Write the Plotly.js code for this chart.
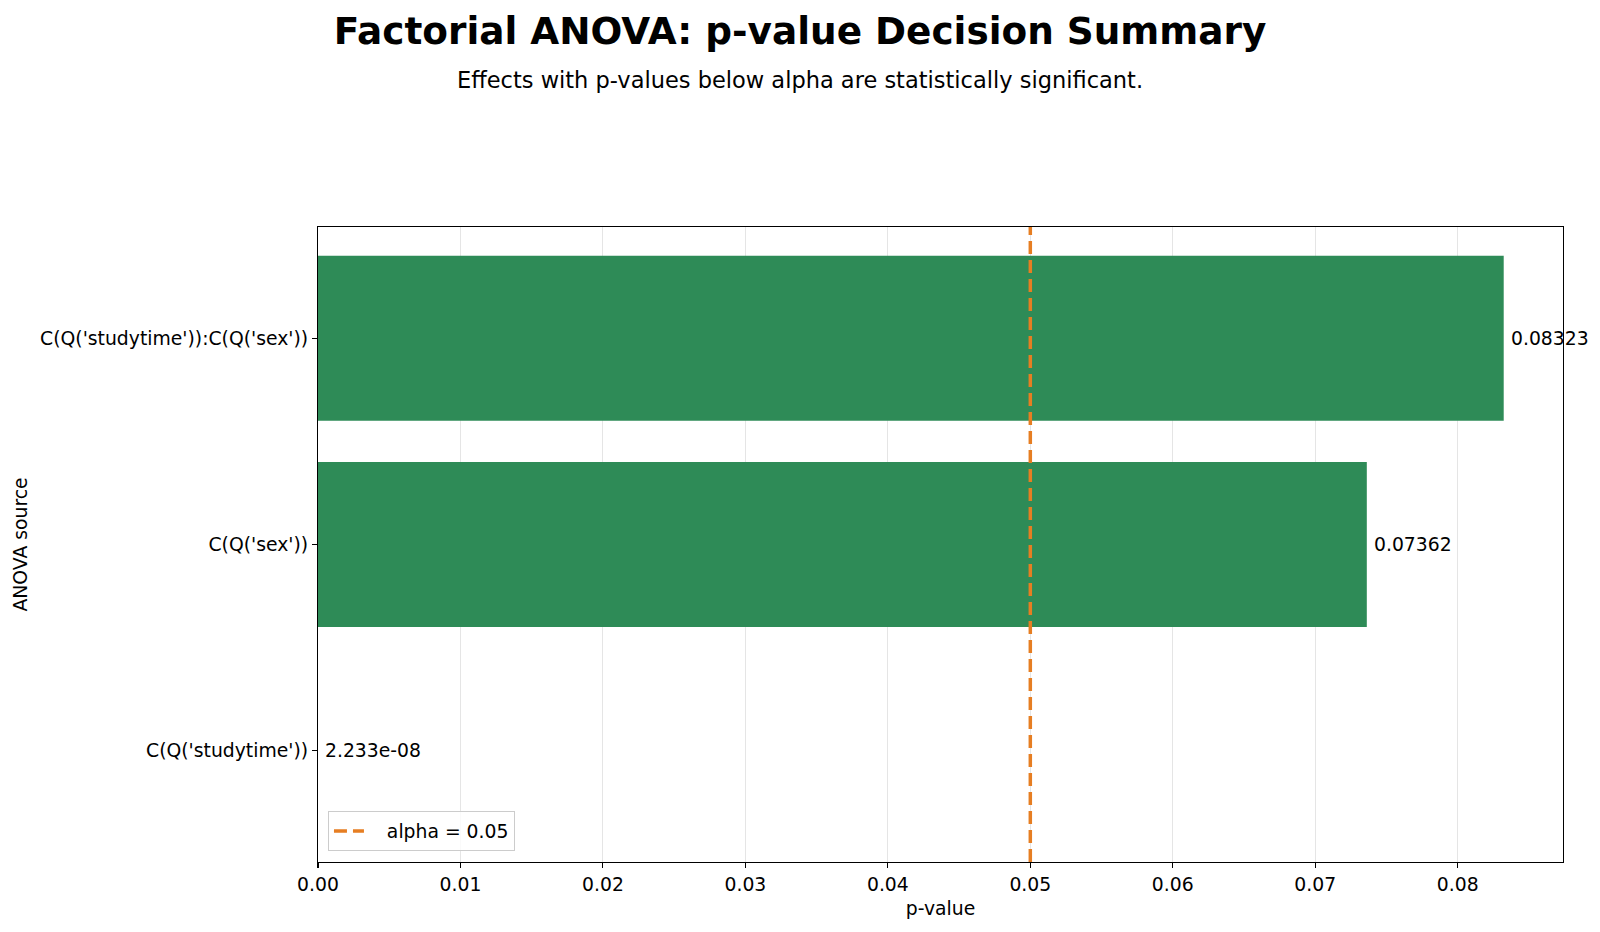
<!DOCTYPE html>
<html>
<head>
<meta charset="utf-8">
<script src="https://cdn.plot.ly/plotly-3.0.1.min.js"></script>
<style>
  html, body { margin: 0; padding: 0; background: #ffffff; }
  #chart { width: 1600px; height: 932px; }
</style>
</head>
<body>
<div id="chart"></div>
<script>
// ANOVA sources, bottom to top, with their p-values
const sources = ["C(Q('studytime'))", "C(Q('sex'))", "C(Q('studytime')):C(Q('sex'))"];
const pValues = [2.233e-08, 0.07362, 0.08323];
const valueLabels = ["2.233e-08", "0.07362", "0.08323"];
const alpha = 0.05;
const xTicks = [0, 0.01, 0.02, 0.03, 0.04, 0.05, 0.06, 0.07, 0.08];
const xTickLabels = ["0.00", "0.01", "0.02", "0.03", "0.04", "0.05", "0.06", "0.07", "0.08"];

const FONT = "DejaVu Sans, Verdana, sans-serif";
const TXT = 18.8;
const sigColor = "#c0392b";
const nonSigColor = "#2e8b57";
const barColors = pValues.map(p => (p < alpha ? sigColor : nonSigColor));

const xMax = Math.max(...pValues) * 1.05;

const traces = [
  {
    type: "bar",
    orientation: "h",
    x: pValues,
    y: [0, 1, 2],
    width: 0.8,
    marker: { color: barColors, opacity: 1, line: { width: 0 } },
    showlegend: false,
    hoverinfo: "x+y"
  },
  {
    type: "scatter",
    mode: "lines",
    x: [alpha, alpha],
    y: [0, 1],
    yaxis: "y2",
    name: "\u00a0\u00a0\u00a0alpha = 0.05",
    line: { color: "#e67e22", width: 3.5, dash: "13px,6px" },
    showlegend: true
  }
];

const annotations = pValues.map((p, i) => ({
  x: p,
  y: i,
  xref: "x",
  yref: "y",
  text: valueLabels[i],
  showarrow: false,
  xanchor: "left",
  yanchor: "middle",
  xshift: 5,
  font: { family: FONT, size: TXT, color: "#000000" }
}));

// subtitle centred on the whole figure
annotations.push({
  text: "Effects with p-values below alpha are statistically significant.",
  xref: "paper", yref: "paper",
  x: (800 - 318) / (1600 - 318 - 37), y: 1,
  xanchor: "center", yanchor: "middle",
  yshift: 147,
  showarrow: false,
  font: { family: FONT, size: 22.5, color: "#000000" }
});

const layout = {
  width: 1600,
  height: 932,
  paper_bgcolor: "#ffffff",
  plot_bgcolor: "#ffffff",
  margin: { l: 318, r: 37, t: 227, b: 70 },
  title: {
    text: "<b>Factorial ANOVA: p-value Decision Summary</b>",
    font: { family: FONT, size: 37.4, color: "#000000" },
    x: 0.5, xref: "container", xanchor: "center",
    y: 1 - 31 / 932, yref: "container", yanchor: "middle"
  },
  xaxis: {
    range: [0, xMax],
    tickvals: xTicks,
    ticktext: xTickLabels,
    ticks: "outside",
    ticklen: 5,
    tickwidth: 1.1,
    tickcolor: "#000000",
    showline: true,
    linecolor: "#000000",
    linewidth: 1.1,
    mirror: true,
    showgrid: true,
    gridcolor: "rgba(0,0,0,0.1)",
    gridwidth: 1.1,
    zeroline: false,
    tickfont: { family: FONT, size: TXT, color: "#000000" },
    title: { text: "p-value", font: { family: FONT, size: TXT, color: "#000000" }, standoff: 8 }
  },
  yaxis: {
    range: [-0.54, 2.54],
    tickvals: [0, 1, 2],
    ticktext: sources,
    ticks: "outside",
    ticklen: 5,
    tickwidth: 1.1,
    tickcolor: "#000000",
    showline: true,
    linecolor: "#000000",
    linewidth: 1.1,
    mirror: true,
    showgrid: false,
    zeroline: false,
    tickfont: { family: FONT, size: TXT, color: "#000000" },
    title: { text: "ANOVA source", font: { family: FONT, size: TXT, color: "#000000" }, standoff: 7 }
  },
  yaxis2: {
    overlaying: "y",
    range: [0, 1],
    visible: false,
    fixedrange: true
  },
  legend: {
    x: 0.008, y: 0.017,
    xanchor: "left", yanchor: "bottom",
    bgcolor: "rgba(255,255,255,0.8)",
    bordercolor: "#cccccc",
    borderwidth: 1,
    font: { family: FONT, size: TXT, color: "#000000" }
  },
  annotations: annotations,
  bargap: 0.2
};

Plotly.newPlot("chart", traces, layout, { displayModeBar: false, staticPlot: true });
</script>
</body>
</html>
